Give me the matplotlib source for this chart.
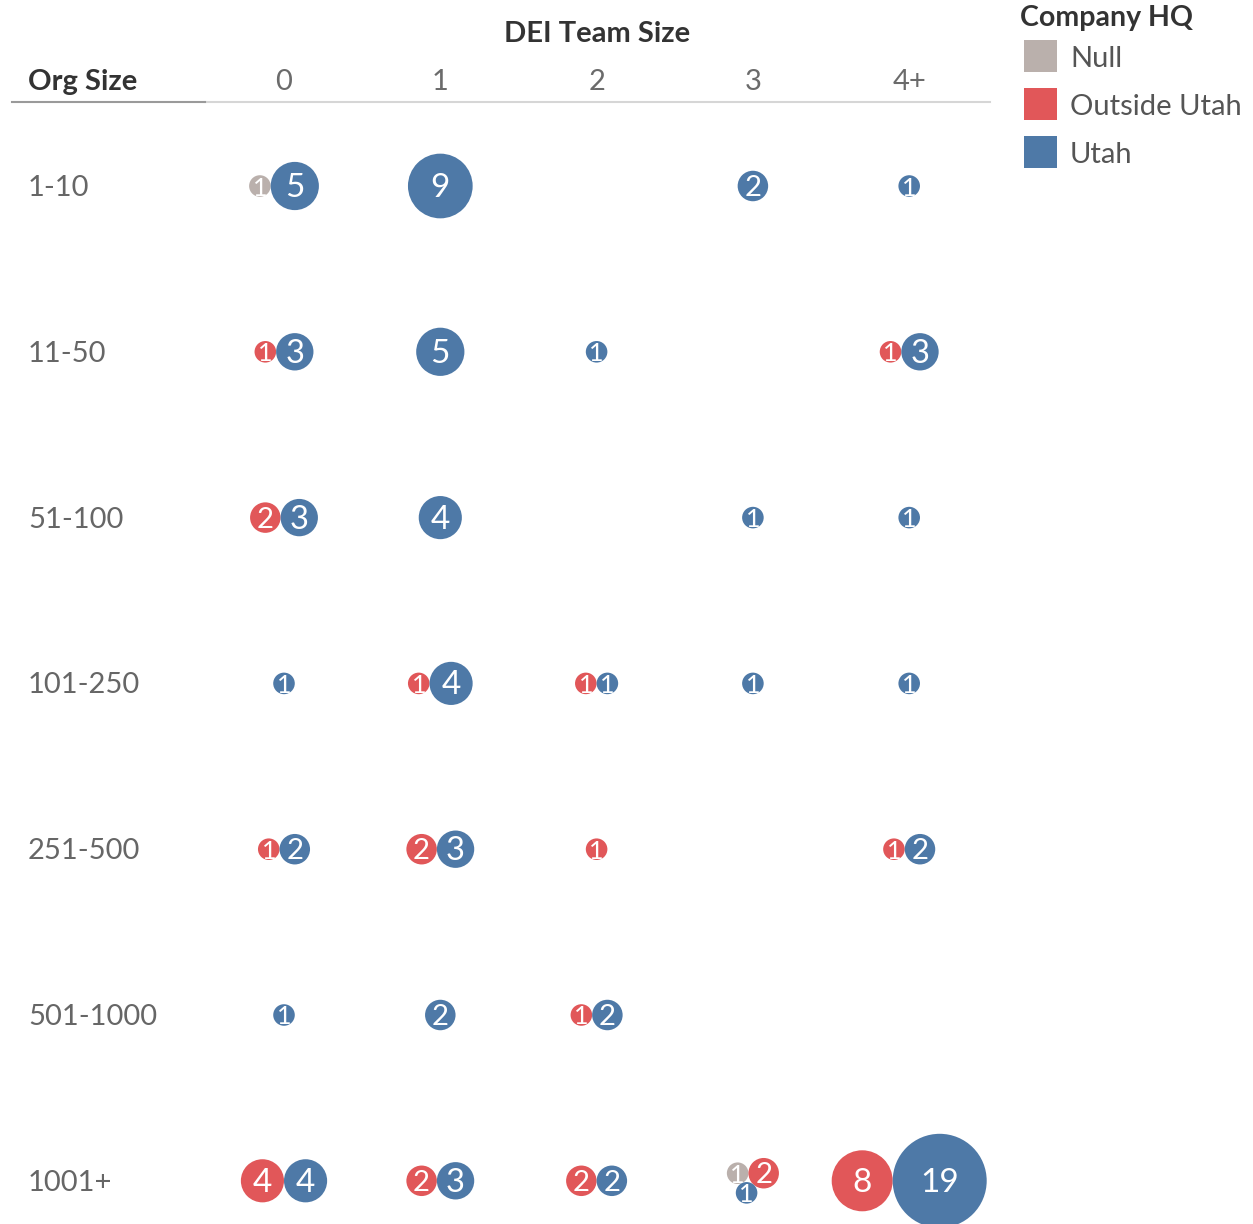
import numpy as np
import matplotlib
matplotlib.use("Agg")
import matplotlib.pyplot as plt
from matplotlib.patches import Circle, Rectangle

plt.rcParams["font.family"] = ["Lato", "DejaVu Sans"]

# ---- data ---------------------------------------------------------------
org_sizes = ["1-10", "11-50", "51-100", "101-250", "251-500", "501-1000", "1001+"]
team_sizes = ["0", "1", "2", "3", "4+"]
hq_groups = ["Null", "Outside Utah", "Utah"]
hq_colors = ["#bab0ac", "#e15759", "#4e79a7"]

# counts per org size (rows) x DEI team size (columns)
null_counts = [
    [1, 0, 0, 0, 0],
    [0, 0, 0, 0, 0],
    [0, 0, 0, 0, 0],
    [0, 0, 0, 0, 0],
    [0, 0, 0, 0, 0],
    [0, 0, 0, 0, 0],
    [0, 0, 0, 1, 0],
]
outside_counts = [
    [0, 0, 0, 0, 0],
    [1, 0, 0, 0, 1],
    [2, 0, 0, 0, 0],
    [0, 1, 1, 0, 0],
    [1, 2, 1, 0, 1],
    [0, 0, 1, 0, 0],
    [4, 2, 2, 2, 8],
]
utah_counts = [
    [5, 9, 0, 2, 1],
    [3, 5, 1, 0, 3],
    [3, 4, 0, 1, 1],
    [1, 4, 1, 1, 1],
    [2, 3, 0, 0, 2],
    [1, 2, 2, 0, 0],
    [4, 3, 2, 1, 19],
]

# ---- layout (pixel space) ----------------------------------------------
W, H = 1253, 1224
col_x = 284 + 156.3 * np.arange(len(team_sizes))
row_y = 186 + 165.8 * np.arange(len(org_sizes))
radius_scale = 47 / np.sqrt(19)   # bubble area proportional to count


def pack(radii):
    """Place bubbles side by side; a third one nests below the first two."""
    pts = []
    if len(radii) >= 1:
        pts.append((0.0, 0.0))
    if len(radii) >= 2:
        pts.append((radii[0] + radii[1], 0.0))
    if len(radii) >= 3:
        d = radii[0] + radii[1]
        a = radii[0] + radii[2]
        b = radii[1] + radii[2]
        x = (a ** 2 - b ** 2 + d ** 2) / (2 * d)
        y = np.sqrt(max(a ** 2 - x ** 2, 0))
        pts.append((x, y))
    pts = np.array(pts)
    r = np.array(radii)
    xmin, xmax = (pts[:, 0] - r).min(), (pts[:, 0] + r).max()
    ymin, ymax = (pts[:, 1] - r).min(), (pts[:, 1] + r).max()
    pts[:, 0] -= (xmin + xmax) / 2
    pts[:, 1] -= (ymin + ymax) / 2
    return pts


fig = plt.figure(figsize=(W / 100, H / 100), dpi=100)
ax = fig.add_axes([0, 0, 1, 1])
ax.set_xlim(0, W)
ax.set_ylim(H, 0)
ax.set_aspect("equal")
ax.axis("off")

series = [null_counts, outside_counts, utah_counts]
for i in range(len(org_sizes)):
    for j in range(len(team_sizes)):
        vals, cols = [], []
        for s, c in zip(series, hq_colors):
            if s[i][j] > 0:
                vals.append(s[i][j])
                cols.append(c)
        if not vals:
            continue
        radii = [radius_scale * np.sqrt(v) for v in vals]
        pts = pack(radii)
        for (dx, dy), r, v, c in zip(pts, radii, vals, cols):
            cx, cy = col_x[j] + dx, row_y[i] + dy
            ax.add_patch(Circle((cx, cy), r, facecolor=c, edgecolor="none"))
            fs = min(24, 10.5 + 0.7 * r)
            ax.text(cx, cy + 2, str(v), color="white", fontsize=fs,
                    ha="center", va="center")

# ---- headers -----------------------------------------------------------
ax.text(col_x[2], 34, "DEI Team Size", fontsize=21, fontweight="bold",
        color="#333333", ha="center", va="center")
ax.text(28, 82, "Org Size", fontsize=21, fontweight="bold",
        color="#333333", ha="left", va="center")
for x, lab in zip(col_x, team_sizes):
    ax.text(x, 82, lab, fontsize=21, color="#6b6b6b", ha="center", va="center")
ax.plot([205, 990], [102, 102], color="#d6d6d6", lw=1.5)
ax.plot([12, 205], [102, 102], color="#9a9a9a", lw=1.5)
for y, lab in zip(row_y, org_sizes):
    ax.text(28, y + 2, lab, fontsize=21, color="#666666", ha="left", va="center")

# ---- legend ------------------------------------------------------------
ax.text(1020, 18, "Company HQ", fontsize=20.5, fontweight="bold",
        color="#333333", ha="left", va="center")
for k, (lab, c) in enumerate(zip(hq_groups, hq_colors)):
    y0 = 40 + 48 * k
    ax.add_patch(Rectangle((1024, y0), 33, 32, facecolor=c, edgecolor="none"))
    ax.text(1070, y0 + 19, lab, fontsize=21, color="#555555",
            ha="left", va="center")

fig.savefig("out.png", dpi=100, facecolor="white")
